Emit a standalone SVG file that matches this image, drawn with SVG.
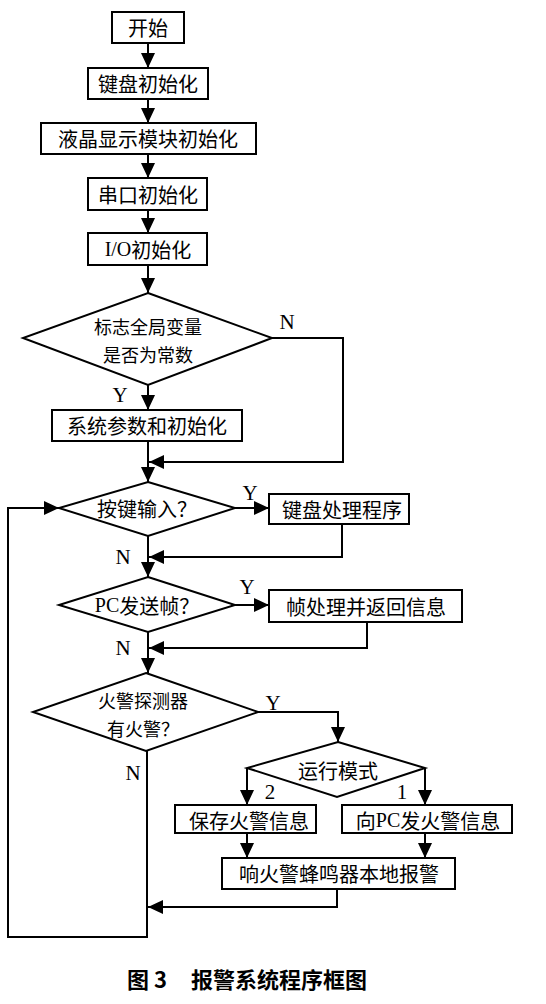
<svg xmlns="http://www.w3.org/2000/svg" width="546" height="1004" viewBox="0 0 546 1004">
<defs>
<marker id="ah" markerUnits="userSpaceOnUse" markerWidth="16" markerHeight="14" refX="15" refY="7" orient="auto">
<path d="M0,0 L15,7 L0,14 z" fill="#000"/>
</marker>
<style>
.box{fill:#fff;stroke:#000;stroke-width:2}
.t{font-family:"Noto Sans CJK SC","Liberation Serif",sans-serif;font-size:20px;fill:#000;text-anchor:middle;dominant-baseline:central}
.t2{font-size:18px}
.l{font-family:"Liberation Serif",serif;font-size:21px;fill:#000;text-anchor:middle;dominant-baseline:central}
.c{fill:none;stroke:#000;stroke-width:2}
.cap{font-family:"Noto Sans CJK SC",sans-serif;font-size:22px;font-weight:bold;fill:#000;dominant-baseline:central}
</style>
</defs>
<rect width="546" height="1004" fill="#fff"/>
<g id="connectors">
<path class="c" d="M148,43 V68" marker-end="url(#ah)"/>
<path class="c" d="M148,99 V123" marker-end="url(#ah)"/>
<path class="c" d="M148,154 V178" marker-end="url(#ah)"/>
<path class="c" d="M148,210 V233" marker-end="url(#ah)"/>
<path class="c" d="M148,265 V293" marker-end="url(#ah)"/>
<path class="c" d="M148,385 V410" marker-end="url(#ah)"/>
<path class="c" d="M148,441 V482" marker-end="url(#ah)"/>
<path class="c" d="M272,338 H343 V462 H149" marker-end="url(#ah)"/>
<path class="c" d="M235,508 H269" marker-end="url(#ah)"/>
<path class="c" d="M342,524 V557 H149" marker-end="url(#ah)"/>
<path class="c" d="M148,536 V577" marker-end="url(#ah)"/>
<path class="c" d="M235,605 H269" marker-end="url(#ah)"/>
<path class="c" d="M367,622 V648 H149" marker-end="url(#ah)"/>
<path class="c" d="M148,632 V673" marker-end="url(#ah)"/>
<path class="c" d="M258,712 H338 V742" marker-end="url(#ah)"/>
<path class="c" d="M247,768 V805" marker-end="url(#ah)"/>
<path class="c" d="M425,768 V805" marker-end="url(#ah)"/>
<path class="c" d="M247,833 V858" marker-end="url(#ah)"/>
<path class="c" d="M425,833 V858" marker-end="url(#ah)"/>
<path class="c" d="M337,889 V907 H148" marker-end="url(#ah)"/>
<path class="c" d="M147,751 V937 H8 V508 H59" marker-end="url(#ah)"/>
<text class="l" x="287" y="322">N</text>
<text class="l" x="120" y="395">Y</text>
<text class="l" x="250" y="493">Y</text>
<text class="l" x="123" y="557">N</text>
<text class="l" x="247" y="587">Y</text>
<text class="l" x="123" y="648">N</text>
<text class="l" x="273" y="703">Y</text>
<text class="l" x="133" y="773">N</text>
<text class="l" x="270" y="792">2</text>
<text class="l" x="402" y="792">1</text>
</g>
<g id="start"><rect class="box" x="112" y="12" width="72" height="31"/><text class="t" x="148" y="27">开始</text></g>
<g id="kbinit"><rect class="box" x="88" y="68" width="120" height="31"/><text class="t" x="148" y="83">键盘初始化</text></g>
<g id="lcdinit"><rect class="box" x="41" y="123" width="215" height="31"/><text class="t" x="148" y="138">液晶显示模块初始化</text></g>
<g id="uartinit"><rect class="box" x="88" y="178" width="119" height="32"/><text class="t" x="148" y="194">串口初始化</text></g>
<g id="ioinit"><rect class="box" x="88" y="233" width="119" height="32"/><text class="t" x="148" y="249"><tspan font-family="Liberation Serif">I/O</tspan>初始化</text></g>
<g id="flagcheck"><polygon class="box" points="148,293 272,338 148,385 23,338"/><text class="t t2" x="148" y="326">标志全局变量</text><text class="t t2" x="148" y="354">是否为常数</text></g>
<g id="sysinit"><rect class="box" x="52" y="410" width="190" height="31"/><text class="t" x="147" y="425">系统参数和初始化</text></g>
<g id="keyinput"><polygon class="box" points="148,482 235,508 148,536 59,508"/><text class="t" x="147" y="508">按键输入？</text></g>
<g id="kbproc"><rect class="box" x="269" y="494" width="140" height="30"/><text class="t" x="342" y="509">键盘处理程序</text></g>
<g id="pcframe"><polygon class="box" points="148,577 235,605 148,632 59,605"/><text class="t" x="147" y="605"><tspan font-family="Liberation Serif">PC</tspan>发送帧？</text></g>
<g id="frameproc"><rect class="box" x="269" y="590" width="193" height="32"/><text class="t" x="366" y="606">帧处理并返回信息</text></g>
<g id="firedetect"><polygon class="box" points="146,673 258,712 146,751 33,712"/><text class="t t2" x="143" y="700">火警探测器</text><text class="t t2" x="143" y="728">有火警？</text></g>
<g id="runmode"><polygon class="box" points="338,742 425,768 337,797 247,768"/><text class="t" x="338" y="770">运行模式</text></g>
<g id="savefire"><rect class="box" x="175" y="805" width="141" height="28"/><text class="t" x="249" y="820">保存火警信息</text></g>
<g id="sendpc"><rect class="box" x="342" y="805" width="170" height="28"/><text class="t" x="428" y="820">向<tspan font-family="Liberation Serif">PC</tspan>发火警信息</text></g>
<g id="buzzer"><rect class="box" x="222" y="858" width="233" height="31"/><text class="t" x="339" y="873">响火警蜂鸣器本地报警</text></g>
<g id="caption"><text class="cap" x="127" y="978">图 3</text><text class="cap" x="191" y="978">报警系统程序框图</text></g>
</svg>
